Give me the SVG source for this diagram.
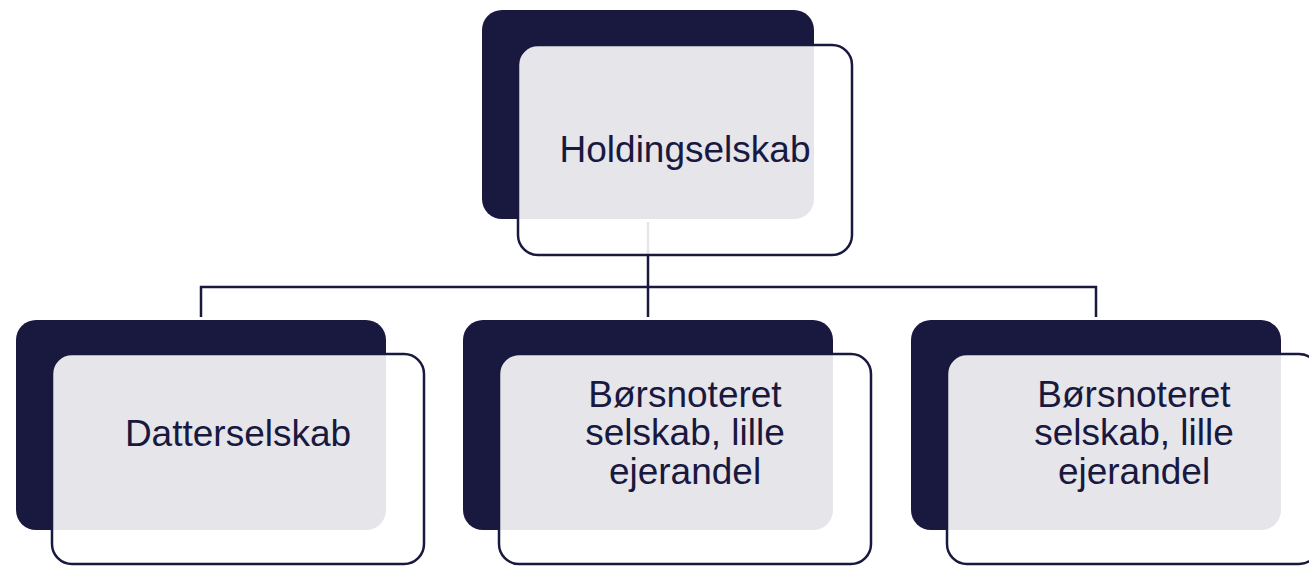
<svg xmlns="http://www.w3.org/2000/svg" width="1309" height="566" viewBox="0 0 1309 566">
  <style>
    .back { fill: #19183f; }
    .front { fill: #ffffff; fill-opacity: 0.89; stroke: #19183f; stroke-width: 2.5; }
    .label { font-family: "Liberation Sans", Arial, sans-serif; font-size: 37px; fill: #19183f; text-anchor: middle; }
    .link { fill: none; stroke: #19183f; stroke-width: 2.5; }
  </style>
  <rect width="1309" height="566" fill="#ffffff"/>

  <!-- tree connectors (drawn first so the top card's translucent face fades them) -->
  <g id="connectors">
    <path class="link" d="M648 222 V317"/>
    <path class="link" d="M201 317 V287 H1096 V317"/>
  </g>

  <g id="node-holding">
    <rect class="back" x="482" y="10" width="332" height="209" rx="20"/>
    <rect class="front" x="518" y="45" width="334" height="210" rx="20"/>
    <text class="label" x="685" y="162">Holdingselskab</text>
  </g>

  <g id="node-datter">
    <rect class="back" x="16" y="320" width="370" height="210" rx="20"/>
    <rect class="front" x="52" y="354" width="372" height="210" rx="20"/>
    <text class="label" x="238" y="446">Datterselskab</text>
  </g>

  <g id="node-boers-1">
    <rect class="back" x="463" y="320" width="370" height="210" rx="20"/>
    <rect class="front" x="499" y="354" width="372" height="210" rx="20"/>
    <text class="label" x="685" y="407">Børsnoteret</text>
    <text class="label" x="685" y="445">selskab, lille</text>
    <text class="label" x="685" y="484">ejerandel</text>
  </g>

  <g id="node-boers-2">
    <rect class="back" x="911" y="320" width="370" height="210" rx="20"/>
    <rect class="front" x="947" y="354" width="372" height="210" rx="20"/>
    <text class="label" x="1134" y="407">Børsnoteret</text>
    <text class="label" x="1134" y="445">selskab, lille</text>
    <text class="label" x="1134" y="484">ejerandel</text>
  </g>
</svg>
